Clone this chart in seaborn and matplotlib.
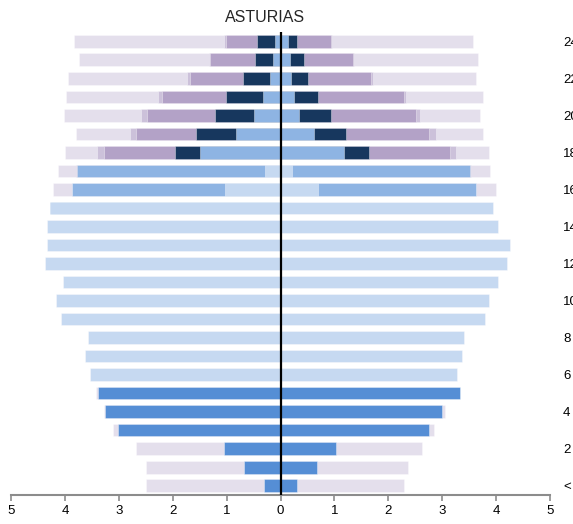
"""Overlaid population pyramid for Asturias (seaborn barplot, native numeric rows)."""
import matplotlib
matplotlib.use("Agg")
import matplotlib.pyplot as plt
import seaborn as sns

ROWS = list(range(25))
ROW_LABELS = ["<", "2", "4", "6", "8", "10", "12", "14", "16", "18", "20", "22", "24"]
XTICK_LABELS = ["5", "4", "3", "2", "1", "0", "1", "2", "3", "4", "5"]

# series values per row (row 0 = bottom), left side and right side magnitudes
lavender_left = [2.50, 2.50, 2.69, 3.10, 3.27, 3.42, 0, 0, 0, 0, 0, 0, 0, 0, 0, 0,
                 4.23, 4.13, 4.00, 3.80, 4.02, 3.98, 3.95, 3.73, 3.84]
lavender_right = [2.29, 2.37, 2.63, 2.84, 3.05, 0, 0, 0, 0, 0, 0, 0, 0, 0, 0, 0,
                  4.00, 3.88, 3.87, 3.75, 3.71, 3.76, 3.63, 3.66, 3.58]
lilac_left = [0] * 17 + [3.79, 3.40, 2.79, 2.58, 2.28, 1.74, 1.33, 1.04]
lilac_right = [0] * 17 + [3.54, 3.25, 2.88, 2.58, 2.33, 1.71, 1.37, 0.96]
purple_left = [0] * 18 + [3.27, 2.68, 2.47, 2.19, 1.67, 1.30, 1.01]
purple_right = [0] * 18 + [3.15, 2.76, 2.52, 2.29, 1.67, 1.35, 0.93]
navy_left = [0] * 18 + [1.95, 1.56, 1.21, 1.02, 0.70, 0.47, 0.43]
navy_right = [0] * 18 + [1.64, 1.22, 0.93, 0.69, 0.51, 0.43, 0.30]
midblue_left = [0] * 15 + [4.28, 3.86, 3.77, 1.49, 0.82, 0.50, 0.33, 0.20, 0.14, 0.11]
midblue_right = [0] * 15 + [0, 3.63, 3.51, 1.18, 0.63, 0.34, 0.25, 0.19, 0.17, 0.14]
lightblue_left = [0] * 6 + [3.54, 3.63, 3.58, 4.08, 4.17, 4.03, 4.37, 4.34, 4.34, 4.25,
                            1.03, 0.28] + [0] * 7
lightblue_right = [0] * 6 + [3.27, 3.37, 3.41, 3.79, 3.87, 4.03, 4.20, 4.26, 4.03, 3.94,
                             0.70, 0.22] + [0] * 7
brightblue_left = [0.31, 0.68, 1.04, 3.01, 3.25, 3.38] + [0] * 19
brightblue_right = [0.31, 0.68, 1.03, 2.75, 3.00, 3.33] + [0] * 19

# drawn back to front
SERIES = [
    (lavender_left, lavender_right, "#e4dfec"),
    (lilac_left, lilac_right, "#ccc1da"),
    (purple_left, purple_right, "#b3a2c7"),
    (navy_left, navy_right, "#17375e"),
    (midblue_left, midblue_right, "#8eb4e3"),
    (lightblue_left, lightblue_right, "#c6d9f1"),
    (brightblue_left, brightblue_right, "#558ed5"),
]


def main() -> None:
    sns.set_style("white")
    plt.rcParams["font.family"] = ["Liberation Sans", "DejaVu Sans"]

    fig = plt.figure(figsize=(5.73, 5.24), dpi=100)
    ax = fig.add_axes([11 / 573, 29 / 524, 539 / 573, 463 / 524])

    for left, right, color in SERIES:
        for vals in ([-v for v in left], right):
            sns.barplot(x=vals, y=ROWS, orient="y", native_scale=True, width=0.68,
                        color=color, saturation=1, errorbar=None,
                        edgecolor=(1, 1, 1, 0.5), linewidth=0.5, ax=ax)

    ax.axvline(0, color="black", lw=1.6, zorder=5)
    ax.set_xlim(-5, 5)
    ax.set_ylim(-0.5, 24.5)
    ax.set_xticks(range(-5, 6))
    ax.set_xticklabels(XTICK_LABELS)
    ax.set_yticks(ROWS[::2])
    ax.set_yticklabels(ROW_LABELS)
    ax.yaxis.tick_right()
    ax.set_xlabel("")
    ax.set_ylabel("")

    sns.despine(ax=ax, left=True)
    ax.spines["bottom"].set_color("#8c8c8c")
    ax.spines["bottom"].set_linewidth(1.5)
    ax.tick_params(axis="x", bottom=True, direction="out", length=4, width=1.2,
                   color="#8c8c8c", labelsize=9.5, labelcolor="black", pad=3)
    ax.tick_params(axis="y", length=0, labelsize=9.5, labelcolor="black", pad=9.4)

    fig.text(265 / 573, 1 - 18 / 524, "ASTURIAS", ha="center", va="center", fontsize=11.5)

    fig.savefig("out.png", dpi=100)


if __name__ == "__main__":
    main()
